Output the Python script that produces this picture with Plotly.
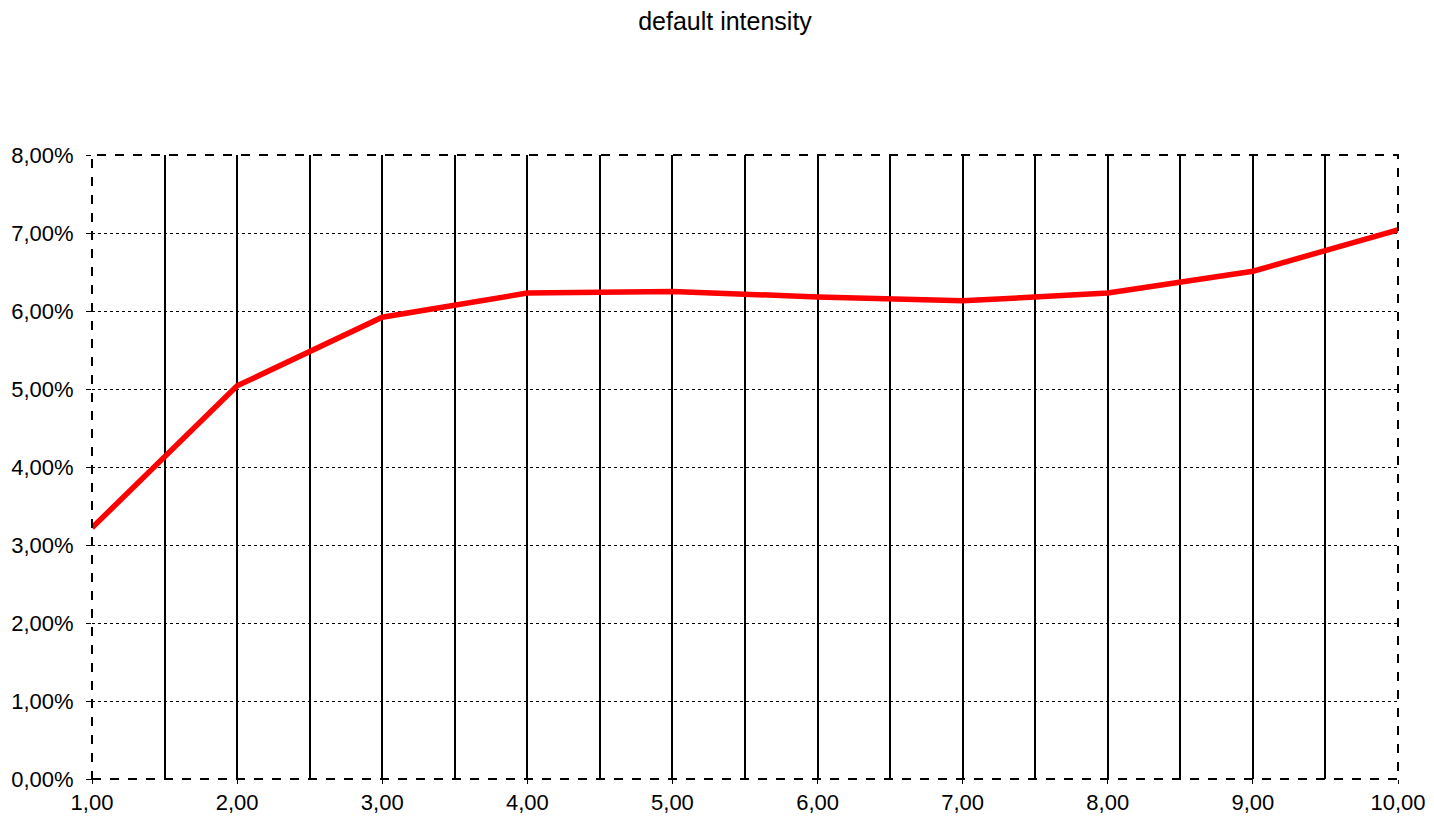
import plotly.graph_objects as go

x_vals = [1, 2, 3, 4, 5, 6, 7, 8, 9, 10]
intensity = [0.0322, 0.0504, 0.0592, 0.0623, 0.0625, 0.0618, 0.0613, 0.0623, 0.0651, 0.0704]
title_text = "default intensity"

fig = go.Figure()
fig.add_trace(go.Scatter(x=x_vals, y=intensity, mode="lines",
                         line=dict(color="#FF0000", width=5.5), showlegend=False))

fig.update_layout(
    width=1434, height=818,
    paper_bgcolor="white", plot_bgcolor="white",
    separators=",.",
    font=dict(family="Liberation Sans, Arial, sans-serif", size=22, color="black"),
    title=dict(text=title_text, x=0.5, xanchor="center", y=0.984, yanchor="middle",
               font=dict(size=25, color="black")),
    margin=dict(l=84, r=44, t=147, b=47),
    xaxis=dict(range=[1, 10], dtick=1, tick0=1, tickformat=".2f",
               showgrid=True, gridcolor="black", gridwidth=2,
               minor=dict(dtick=0.5, tick0=1, showgrid=True, gridcolor="black", gridwidth=2),
               ticks="outside", ticklen=4, tickcolor="black", automargin=False,
               zeroline=False, showline=False),
    yaxis=dict(range=[0, 0.08], dtick=0.01, tickformat=".2%",
               showgrid=True, gridcolor="black", gridwidth=1, griddash="dot",
               ticks="outside", ticklen=5, tickcolor="black", ticklabelstandoff=8,
               automargin=False, zeroline=False, showline=False),
)

fig.add_shape(type="rect", xref="paper", yref="paper", x0=0, y0=0, x1=1, y1=1,
              line=dict(color="black", width=2, dash="dash"), fillcolor="rgba(0,0,0,0)",
              layer="above")

fig.write_html("out.html")
